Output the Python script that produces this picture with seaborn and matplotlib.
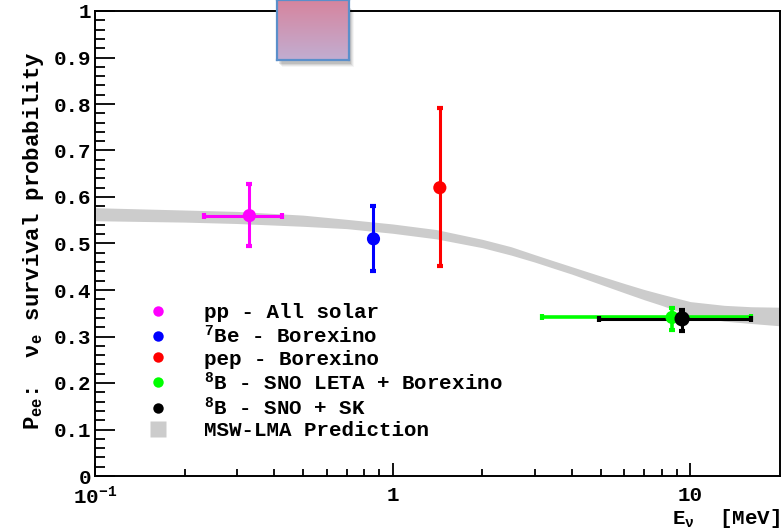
import numpy as np
import pandas as pd
import seaborn as sns
import matplotlib
matplotlib.use("Agg")
import matplotlib.pyplot as plt
from matplotlib.lines import Line2D
from matplotlib.patches import Rectangle
from matplotlib.ticker import FixedLocator, FixedFormatter, MultipleLocator, NullFormatter

# Measured solar-neutrino survival probabilities
sources = ["pp", "7Be", "pep", "8B LETA", "8B SNO+SK"]
labels = ["pp - All solar", r"$^{7}$Be - Borexino", "pep - Borexino",
          r"$^{8}$B - SNO LETA + Borexino", r"$^{8}$B - SNO + SK"]
colors = ["#ff00ff", "#0000ff", "#ff0000", "#00ff00", "#000000"]
energy = [0.33, 0.862, 1.44, 8.68, 9.38]          # MeV
energy_min = [0.232, 0.862, 1.44, 3.18, 4.94]
energy_max = [0.424, 0.862, 1.44, 16.0, 16.0]
pee = [0.56, 0.51, 0.62, 0.341, 0.338]
pee_min = [0.495, 0.441, 0.452, 0.315, 0.3125]
pee_max = [0.628, 0.581, 0.792, 0.362, 0.358]

# MSW-LMA prediction band
band_e = [0.1, 0.2, 0.3, 0.5, 0.7, 1.0, 1.4, 2.0, 2.5, 3.0,
          3.5, 4.0, 5.0, 6.0, 7.0, 8.0, 10.0, 13.0, 16.0, 20.0]
band_hi = [0.577, 0.572, 0.569, 0.561, 0.552, 0.542, 0.530, 0.509, 0.493, 0.476,
           0.462, 0.450, 0.430, 0.414, 0.401, 0.391, 0.375, 0.367, 0.364, 0.363]
band_lo = [0.549, 0.546, 0.543, 0.537, 0.532, 0.522, 0.510, 0.491, 0.475, 0.460,
           0.446, 0.434, 0.412, 0.394, 0.379, 0.367, 0.345, 0.333, 0.328, 0.323]

x_ticks = [0.1, 1, 10]
x_ticklabels = [r"10$^{-1}$", "1", "10"]

sns.set_theme(style="ticks")
FONT = "Liberation Mono"
plt.rcParams.update({
    "font.family": [FONT, "DejaVu Sans"],
    "font.weight": "bold",
    "mathtext.fontset": "custom",
    "mathtext.rm": f"{FONT}:bold",
    "mathtext.it": f"{FONT}:bold",
    "mathtext.bf": f"{FONT}:bold",
    "mathtext.sf": f"{FONT}",
    "axes.linewidth": 1.4,
    "text.color": "black",
    "axes.labelcolor": "black",
    "axes.edgecolor": "black",
    "xtick.color": "black",
    "ytick.color": "black",
})

W, H = 782, 532
fig = plt.figure(figsize=(W / 100, H / 100), dpi=100)
ax = fig.add_axes([95 / W, (H - 476) / H, (780 - 95) / W, (476 - 11) / H])

df = pd.DataFrame({"source": sources, "energy": energy, "pee": pee,
                   "emin": energy_min, "emax": energy_max,
                   "pmin": pee_min, "pmax": pee_max})

# prediction band
ax.fill_between(band_e, band_lo, band_hi, color="#cccccc", lw=0, zorder=1)

# error bars
for i, r in df.iterrows():
    xerr = [[r.energy - r.emin], [r.emax - r.energy]]
    yerr = [[r.pee - r.pmin], [r.pmax - r.pee]]
    has_x = (r.emax - r.emin) > 0
    ax.errorbar([r.energy], [r.pee], xerr=xerr if has_x else None, yerr=yerr,
                fmt="none", ecolor=colors[i], elinewidth=2.6 if i == 3 else 2.2,
                capsize=2.2, capthick=3.0, zorder=2 + i * 0.1)

# markers
sns.scatterplot(data=df, x="energy", y="pee", hue="source", palette=colors,
                size="source", sizes={"pp": 90, "7Be": 90, "pep": 90,
                                      "8B LETA": 90, "8B SNO+SK": 120},
                edgecolor="none", legend=False, ax=ax, zorder=4)

ax.set_xscale("log")
ax.set_xlim(0.1, 20)
ax.set_ylim(0, 1)

ax.xaxis.set_major_locator(FixedLocator(x_ticks))
ax.xaxis.set_major_formatter(FixedFormatter(x_ticklabels))
ax.xaxis.set_minor_locator(FixedLocator([m * d for d in (0.1, 1) for m in range(2, 10)]))
ax.xaxis.set_minor_formatter(NullFormatter())
ax.yaxis.set_major_locator(MultipleLocator(0.1))
ax.yaxis.set_minor_locator(MultipleLocator(0.02))
ax.yaxis.set_major_formatter(matplotlib.ticker.FuncFormatter(
    lambda v, p: "0" if abs(v) < 1e-9 else ("1" if abs(v - 1) < 1e-9 else f"{v:.1f}")))

ax.tick_params(axis="y", which="major", direction="in", length=14.5, width=1.3,
               labelsize=15, pad=3)
ax.tick_params(axis="y", which="minor", direction="in", length=7.2, width=1.3)
ax.tick_params(axis="x", which="major", direction="in", length=9.5, width=1.3,
               labelsize=15, pad=7)
ax.tick_params(axis="x", which="minor", direction="in", length=5, width=1.3)
for lab in ax.get_xticklabels() + ax.get_yticklabels():
    lab.set_fontweight("bold")

ax.set_xlabel(r"E$_{\nu}$  [MeV]", fontsize=15, fontweight="bold")
ax.xaxis.set_label_coords(1.0, -(524 - 476) / 465)
ax.xaxis.label.set_horizontalalignment("right")
ax.xaxis.label.set_verticalalignment("baseline")
ax.set_ylabel(r"P$_{ee}$:  $\mathsf{\nu_e}$ survival probability", fontsize=16,
              fontweight="bold")
ax.yaxis.set_label_coords(-0.072, (476 - 241) / 465)

handles = [Line2D([], [], ls="none", marker="o", ms=7.5, color=c, mec="none")
           for c in colors]
handles.append(Line2D([], [], ls="none", marker="s", ms=12, color="#cccccc", mec="none"))
leg = ax.legend(handles, labels + ["MSW-LMA Prediction"], loc="upper left",
                bbox_to_anchor=((147.6 - 95) / 685, (476 - 303) / 465),
                frameon=False, fontsize=15, borderpad=0, borderaxespad=0,
                handlelength=1.0, handletextpad=1.7, labelspacing=0.12)
for t in leg.get_texts():
    t.set_fontweight("bold")

# gradient box overlapping the top edge
bx0, bx1, by1 = 276.7, 349.0, 60.0
for k, a in enumerate([0.10, 0.08, 0.06, 0.04]):
    fig.patches.append(Rectangle(((bx0 + 2 + k) / W, (H - by1 - 4 - k) / H),
                                 (bx1 - bx0) / W, (by1 - 4) / H,
                                 transform=fig.transFigure, color="black",
                                 alpha=a, lw=0, zorder=9))
bax = fig.add_axes([bx0 / W, (H - by1) / H, (bx1 - bx0) / W, by1 / H], zorder=10)
top = np.array([0.84, 0.52, 0.62])
bot = np.array([0.76, 0.68, 0.82])
t = np.linspace(0, 1, 100)[:, None, None]
grad = (1 - t) * top + t * bot
bax.imshow(np.repeat(grad, 2, axis=1), aspect="auto", extent=[0, 1, 0, 1])
bax.set_xticks([])
bax.set_yticks([])
for s in bax.spines.values():
    s.set_color("#5b8fca")
    s.set_linewidth(1.6)

fig.savefig("out.png", dpi=100)
